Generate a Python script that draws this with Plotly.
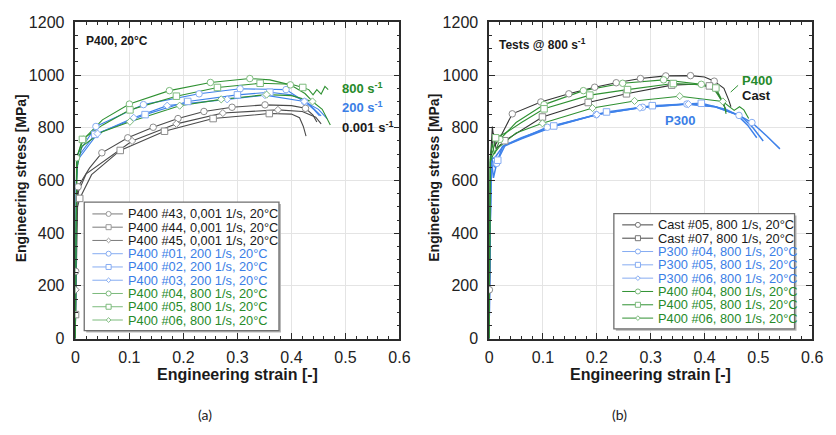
import plotly.graph_objects as go

W, H = 836, 435

# ---------------- Panel (a): P400, 20°C ----------------
a43_strain = [0, 0.0006, 0.003, 0.005, 0.026, 0.049, 0.097, 0.144, 0.190, 0.238, 0.290, 0.351, 0.400, 0.426, 0.440, 0.447]
a43_stress = [0, 255, 540, 576, 647, 705, 762, 802, 835, 862, 878, 887, 884, 874, 848, 822]
a43_mk = [1, 3, 5, 6, 7, 8, 9, 10, 11, 13]

a44_strain = [0, 0.0003, 0.004, 0.008, 0.03, 0.083, 0.165, 0.255, 0.359, 0.400, 0.415, 0.422, 0.427]
a44_stress = [0, 91, 500, 532, 622, 714, 787, 835, 854, 852, 838, 805, 768]
a44_mk = [1, 3, 5, 6, 7, 8]

a45_strain = [0, 0.0005, 0.003, 0.006, 0.02, 0.105, 0.187, 0.273, 0.375, 0.420, 0.445, 0.455]
a45_stress = [0, 185, 520, 560, 625, 750, 815, 856, 868, 862, 840, 815]
a45_mk = [1, 5, 6, 7, 8]

a01_strain = [0, 0.0015, 0.004, 0.038, 0.126, 0.229, 0.305, 0.390, 0.424, 0.442, 0.452]
a01_stress = [0, 600, 700, 805, 888, 929, 948, 945, 900, 868, 845]
a01_mk = [3, 4, 5, 6, 7, 8]

a02_strain = [0, 0.0015, 0.005, 0.036, 0.129, 0.208, 0.300, 0.360, 0.400, 0.430, 0.455]
a02_stress = [0, 590, 690, 775, 850, 900, 925, 935, 925, 895, 845]
a02_mk = [3, 4, 5, 6, 7]

a03_strain = [0, 0.0015, 0.005, 0.041, 0.108, 0.170, 0.281, 0.351, 0.424, 0.450, 0.466]
a03_stress = [0, 580, 680, 778, 838, 884, 908, 924, 900, 870, 835]
a03_mk = [3, 4, 5, 6, 7, 8]

a04_strain = [0, 0.0008, 0.002, 0.015, 0.05, 0.100, 0.174, 0.250, 0.323, 0.360, 0.398, 0.425, 0.439]
a04_stress = [0, 420, 686, 756, 830, 890, 941, 972, 987, 982, 963, 930, 900]
a04_mk = [2, 3, 5, 6, 7, 8, 10]

a05_strain = [0, 0.0008, 0.003, 0.013, 0.05, 0.101, 0.187, 0.263, 0.342, 0.400, 0.421, 0.432, 0.440, 0.447, 0.455, 0.462, 0.468]
a05_stress = [0, 400, 690, 756, 810, 868, 920, 953, 969, 965, 953, 945, 925, 945, 928, 957, 945]
a05_mk = [3, 5, 6, 7, 8, 10]

a06_strain = [0, 0.0008, 0.003, 0.012, 0.05, 0.101, 0.193, 0.270, 0.354, 0.400, 0.439, 0.457, 0.472]
a06_stress = [0, 380, 650, 730, 785, 823, 884, 908, 926, 922, 900, 870, 811]
a06_mk = [5, 6, 7, 8, 10]

# ---------------- Panel (b): Tests @ 800 1/s ----------------
c05_strain = [0, 0.0005, 0.003, 0.006, 0.010, 0.023, 0.043, 0.096, 0.148, 0.196, 0.236, 0.281, 0.328, 0.374, 0.400, 0.418, 0.436, 0.445, 0.449]
c05_stress = [0, 185, 700, 805, 730, 774, 853, 898, 929, 954, 971, 987, 997, 998, 993, 977, 950, 905, 880]
c05_mk = [1, 6, 7, 8, 9, 10, 11, 12, 13, 15]

c07_strain = [0, 0.0005, 0.003, 0.008, 0.013, 0.029, 0.060, 0.099, 0.184, 0.255, 0.339, 0.380, 0.409, 0.425, 0.437, 0.442]
c07_stress = [0, 150, 690, 780, 720, 751, 790, 841, 896, 929, 962, 965, 959, 930, 880, 860]
c07_mk = [5, 7, 8, 9, 10, 12]

p04_strain = [0, 0.001, 0.004, 0.008, 0.014, 0.025, 0.060, 0.108, 0.199, 0.285, 0.367, 0.420, 0.464, 0.488, 0.515, 0.540]
p04_stress = [0, 300, 683, 610, 665, 730, 760, 802, 850, 878, 890, 880, 847, 820, 770, 720]
p04_mk = [4, 7, 8, 9, 10, 12, 13]

p05_strain = [0, 0.001, 0.004, 0.010, 0.016, 0.030, 0.060, 0.120, 0.218, 0.303, 0.394, 0.440, 0.470, 0.490, 0.509]
p05_stress = [0, 300, 690, 650, 677, 735, 762, 807, 860, 884, 893, 870, 840, 800, 750]
p05_mk = [4, 7, 8, 9, 10]

p06_strain = [0, 0.001, 0.004, 0.012, 0.025, 0.060, 0.120, 0.200, 0.280, 0.370, 0.420, 0.460, 0.480, 0.497]
p06_stress = [0, 300, 680, 690, 728, 758, 805, 850, 876, 890, 880, 850, 810, 762]
p06_mk = [7, 8, 9]

g04_strain = [0, 0.0005, 0.002, 0.006, 0.010, 0.020, 0.050, 0.102, 0.175, 0.248, 0.324, 0.394, 0.420, 0.436, 0.440]
g04_stress = [0, 350, 690, 740, 700, 756, 820, 888, 941, 969, 982, 965, 940, 890, 860]
g04_mk = [5, 7, 8, 9, 10, 11]

g05_strain = [0, 0.0005, 0.002, 0.008, 0.012, 0.030, 0.060, 0.102, 0.187, 0.257, 0.342, 0.400, 0.421, 0.436, 0.440]
g05_stress = [0, 350, 680, 720, 762, 780, 820, 872, 924, 945, 968, 963, 951, 890, 853]
g05_mk = [4, 7, 8, 9, 10, 12]

g06_strain = [0, 0.0005, 0.002, 0.008, 0.020, 0.050, 0.099, 0.192, 0.270, 0.354, 0.434, 0.455, 0.465, 0.473, 0.482]
g06_stress = [0, 350, 670, 700, 730, 780, 817, 875, 902, 920, 900, 866, 880, 868, 835]
g06_mk = [6, 7, 8, 9, 10]

x_ticks = [0, 0.1, 0.2, 0.3, 0.4, 0.5, 0.6]
y_ticks = [0, 200, 400, 600, 800, 1000, 1200]

legend_a = ["P400 #43, 0,001 1/s, 20°C", "P400 #44, 0,001 1/s, 20°C", "P400 #45, 0,001 1/s, 20°C",
            "P400 #01, 200 1/s, 20°C", "P400 #02, 200 1/s, 20°C", "P400 #03, 200 1/s, 20°C",
            "P400 #04, 800 1/s, 20°C", "P400 #05, 800 1/s, 20°C", "P400 #06, 800 1/s, 20°C"]
legend_b = ["Cast #05, 800 1/s, 20°C", "Cast #07, 800 1/s, 20°C",
            "P300 #04, 800 1/s, 20°C", "P300 #05, 800 1/s, 20°C", "P300 #06, 800 1/s, 20°C",
            "P400 #04, 800 1/s, 20°C", "P400 #05, 800 1/s, 20°C", "P400 #06, 800 1/s, 20°C"]

# ---------------- styling ----------------
GRAY = "#4a4a4a"
GRAY_LIGHT = "#8c8c8c"
BLUE = "#3f82ea"
BLUE_LIGHT = "#86acf2"
GREEN = "#2f9132"
GREEN_LIGHT = "#7dbb7d"
TXT_BLUE = "#3a7ee6"
TXT_GREEN = "#268a2a"
FONT = "Liberation Sans, Arial, sans-serif"

SYM = {"o": "circle", "s": "square", "d": "diamond"}
SIZE = {"o": 6.5, "s": 6.5, "d": 5.5}

series_a = [
    (a43_strain, a43_stress, a43_mk, GRAY, GRAY_LIGHT, "o", 1.1),
    (a44_strain, a44_stress, a44_mk, GRAY, GRAY_LIGHT, "s", 1.1),
    (a45_strain, a45_stress, a45_mk, GRAY, GRAY_LIGHT, "d", 1.1),
    (a01_strain, a01_stress, a01_mk, BLUE, BLUE_LIGHT, "o", 1.1),
    (a02_strain, a02_stress, a02_mk, BLUE, BLUE_LIGHT, "s", 1.1),
    (a03_strain, a03_stress, a03_mk, BLUE, BLUE_LIGHT, "d", 1.1),
    (a04_strain, a04_stress, a04_mk, GREEN, GREEN_LIGHT, "o", 1.1),
    (a05_strain, a05_stress, a05_mk, GREEN, GREEN_LIGHT, "s", 1.1),
    (a06_strain, a06_stress, a06_mk, GREEN, GREEN_LIGHT, "d", 1.1),
]
series_b = [
    (c05_strain, c05_stress, c05_mk, "#333333", "#8c8c8c", "o", 1.1),
    (c07_strain, c07_stress, c07_mk, "#333333", "#8c8c8c", "s", 1.1),
    (p04_strain, p04_stress, p04_mk, BLUE, BLUE_LIGHT, "o", 1.5),
    (p05_strain, p05_stress, p05_mk, BLUE, BLUE_LIGHT, "s", 1.5),
    (p06_strain, p06_stress, p06_mk, BLUE, BLUE_LIGHT, "d", 1.5),
    (g04_strain, g04_stress, g04_mk, GREEN, GREEN_LIGHT, "o", 1.1),
    (g05_strain, g05_stress, g05_mk, GREEN, GREEN_LIGHT, "s", 1.1),
    (g06_strain, g06_stress, g06_mk, GREEN, GREEN_LIGHT, "d", 1.1),
]
legend_a_style = [("#7a7a7a", "#9a9a9a", "#1a1a1a", "o"), ("#7a7a7a", "#9a9a9a", "#1a1a1a", "s"), ("#7a7a7a", "#9a9a9a", "#1a1a1a", "d"),
                  (BLUE_LIGHT, BLUE_LIGHT, TXT_BLUE, "o"), (BLUE_LIGHT, BLUE_LIGHT, TXT_BLUE, "s"), (BLUE_LIGHT, BLUE_LIGHT, TXT_BLUE, "d"),
                  (GREEN_LIGHT, GREEN_LIGHT, TXT_GREEN, "o"), (GREEN_LIGHT, GREEN_LIGHT, TXT_GREEN, "s"), (GREEN_LIGHT, GREEN_LIGHT, TXT_GREEN, "d")]
legend_b_style = [("#444444", "#777777", "#1a1a1a", "o"), ("#444444", "#777777", "#1a1a1a", "s"),
                  (BLUE_LIGHT, BLUE_LIGHT, TXT_BLUE, "o"), (BLUE_LIGHT, BLUE_LIGHT, TXT_BLUE, "s"), (BLUE_LIGHT, BLUE_LIGHT, TXT_BLUE, "d"),
                  (GREEN, GREEN_LIGHT, TXT_GREEN, "o"), (GREEN, GREEN_LIGHT, TXT_GREEN, "s"), (GREEN, GREEN_LIGHT, TXT_GREEN, "d")]

fig = go.Figure()


def add_series(series, xa, ya):
    for xs, ys, mk, lc, mc, sym, lw in series:
        fig.add_trace(go.Scatter(x=xs, y=ys, mode="lines", xaxis=xa, yaxis=ya,
                                 line=dict(color=lc, width=lw), showlegend=False, hoverinfo="skip"))
    for xs, ys, mk, lc, mc, sym, lw in series:
        fig.add_trace(go.Scatter(x=[xs[i] for i in mk], y=[ys[i] for i in mk], mode="markers",
                                 xaxis=xa, yaxis=ya, showlegend=False, hoverinfo="skip",
                                 marker=dict(symbol=SYM[sym], size=SIZE[sym], color="white",
                                             line=dict(color=mc, width=1))))


add_series(series_a, "x", "y")
add_series(series_b, "x2", "y2")

# axes geometry (pixels)
AX_L, AX_R = 72.7, 402.7
BX_L, BX_R = 494.0, 823.0
TOP, BOT = 15.0, 344.0


def px(p):
    return p / W


def py(p):
    return 1 - p / H


axis_common = dict(showline=True, linecolor="#2b2b2b", linewidth=1.5, mirror="allticks",
                   ticks="inside", ticklen=6, tickwidth=1.2, tickcolor="#2b2b2b",
                   showgrid=True, gridcolor="#e4e4e4", gridwidth=1, zeroline=False,
                   tickfont=dict(family=FONT, size=16, color="#222222"))
xa = dict(axis_common, range=[0, 0.6], tickvals=x_ticks, ticktext=[f"{v:g}" for v in x_ticks],
          ticklabelstandoff=3,
          minor=dict(dtick=0.02, ticks="inside", ticklen=3, tickcolor="#2b2b2b", showgrid=False))
ya = dict(axis_common, range=[0, 1200], tickvals=y_ticks, ticktext=[str(v) for v in y_ticks],
          ticklabelstandoff=6,
          minor=dict(dtick=50, ticks="inside", ticklen=3, tickcolor="#2b2b2b", showgrid=False))

fig.update_layout(
    width=W, height=H, margin=dict(l=0, r=0, t=0, b=0),
    paper_bgcolor="white", plot_bgcolor="white", showlegend=False,
    xaxis=dict(xa, domain=[px(AX_L), px(AX_R)], anchor="y"),
    yaxis=dict(ya, domain=[py(BOT), py(TOP)], anchor="x"),
    xaxis2=dict(xa, domain=[px(BX_L), px(BX_R)], anchor="y2"),
    yaxis2=dict(ya, domain=[py(BOT), py(TOP)], anchor="x2"),
)

shapes = []
annos = []


def text(x, y, s, size, color="#1a1a1a", bold=False, xanchor="left", family=FONT, angle=0):
    annos.append(dict(x=px(x), y=py(y), xref="paper", yref="paper", text=(f"<b>{s}</b>" if bold else s),
                      showarrow=False, xanchor=xanchor, yanchor="middle", textangle=angle,
                      font=dict(family=family, size=size, color=color)))


# axis titles
for cx in [(AX_L + AX_R) / 2, (BX_L + BX_R) / 2]:
    text(cx, 381.5, "Engineering strain [-]", 16, bold=True, xanchor="center")
for cx in [17.5, 437.5]:
    text(cx, 177, "Engineering stress [MPa]", 14, bold=True, xanchor="center", angle=-90)

text(205, 423, "(a)", 14, color="#222222", xanchor="center", family="Lato, Open Sans, sans-serif")
text(627, 423, "(b)", 14, color="#222222", xanchor="center", family="Lato, Open Sans, sans-serif")

# in-plot labels
text(81, 34, "P400, 20°C", 12, bold=True)
text(501.5, 37, "Tests @ 800 s<sup>-1</sup>", 12, bold=True)
text(342.5, 83, "800 s<sup>-1</sup>", 13, color=TXT_GREEN, bold=True)
text(342.5, 103.5, "200 s<sup>-1</sup>", 13, color=TXT_BLUE, bold=True)
text(342.5, 124, "0.001 s<sup>-1</sup>", 13, color="#1a1a1a", bold=True)
text(749, 75, "P400", 13, color=TXT_GREEN, bold=True)
text(749, 91, "Cast", 13, color="#1a1a1a", bold=True)
text(671.5, 117, "P300", 13, color=TXT_BLUE, bold=True)
shapes.append(dict(type="line", xref="paper", yref="paper", x0=px(740), y0=py(87.5), x1=px(747.5), y1=py(80.5),
                   line=dict(color=GREEN, width=1)))


def legend(box, rows_y0, dy, seg, mk_x, txt_x, labels, styles):
    x0, y0, x1, y1 = box
    shapes.append(dict(type="rect", xref="paper", yref="paper", x0=px(x0 + 2), y0=py(y0 + 2), x1=px(x1 + 2), y1=py(y1 + 2),
                       fillcolor="#b5b5b5", line=dict(width=0)))
    shapes.append(dict(type="rect", xref="paper", yref="paper", x0=px(x0), y0=py(y0), x1=px(x1), y1=py(y1),
                       fillcolor="white", line=dict(color="#6e6e6e", width=1.3)))
    for i, (lab, (lc, mc, tc, sym)) in enumerate(zip(labels, styles)):
        yy = rows_y0 + i * dy
        shapes.append(dict(type="line", xref="paper", yref="paper", x0=px(seg[0]), x1=px(seg[1]), y0=py(yy), y1=py(yy),
                           line=dict(color=lc, width=1)))
        r = 2.6 if sym != "d" else 2.4
        if sym == "o":
            shapes.append(dict(type="circle", xref="paper", yref="paper", x0=px(mk_x - r), x1=px(mk_x + r),
                               y0=py(yy + r), y1=py(yy - r), fillcolor="white", line=dict(color=mc, width=1)))
        elif sym == "s":
            shapes.append(dict(type="rect", xref="paper", yref="paper", x0=px(mk_x - r), x1=px(mk_x + r),
                               y0=py(yy + r), y1=py(yy - r), fillcolor="white", line=dict(color=mc, width=1)))
        else:
            path = (f"M {px(mk_x - r)} {py(yy)} L {px(mk_x)} {py(yy - r)} L {px(mk_x + r)} {py(yy)} "
                    f"L {px(mk_x)} {py(yy + r)} Z")
            shapes.append(dict(type="path", xref="paper", yref="paper", path=path, fillcolor="white",
                               line=dict(color=mc, width=1)))
        text(txt_x, yy, lab, 12.8, color=tc)


legend((81.7, 202, 280, 335.7), 214.3, 13.8, (90, 121), 106.5, 124.5, legend_a, legend_a_style)
legend((621, 214, 805, 334), 225.7, 13.86, (629.5, 661), 645.5, 663.5, legend_b, legend_b_style)

fig.update_layout(shapes=shapes, annotations=annos)
fig.write_html("out.html")
